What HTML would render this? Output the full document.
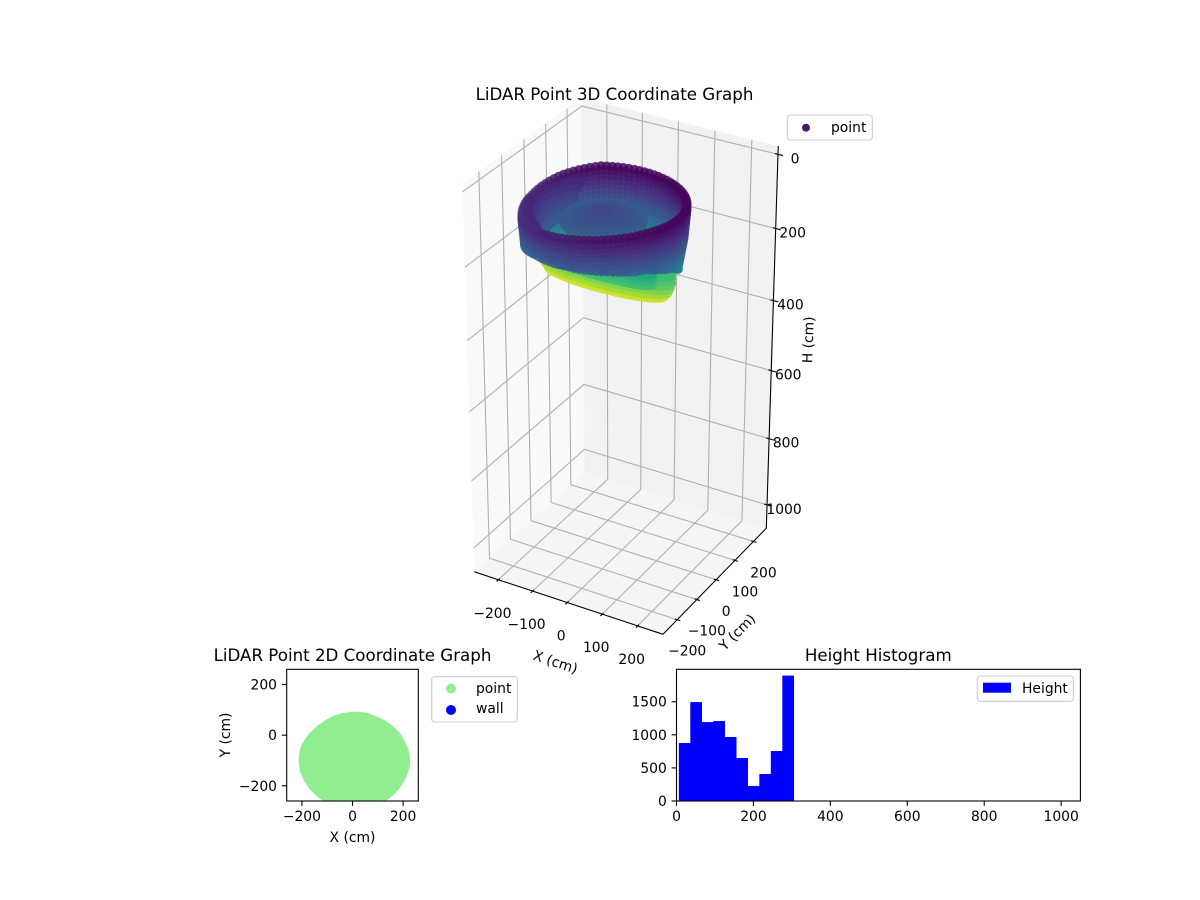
<!DOCTYPE html>
<html lang="en">
<head>
<meta charset="utf-8">
<title>LiDAR Point Graphs</title>
<style>
html,body{margin:0;padding:0;background:#fff;}
svg{display:block;font-family:"DejaVu Sans","Liberation Sans",sans-serif;fill:#000;}
text{font-size:13.89px;}
.ttl{font-size:16.67px;}
</style>
</head>
<body>
<svg id="fig" width="1200" height="900" viewBox="0 0 1200 900" xmlns="http://www.w3.org/2000/svg">
<defs>
<clipPath id="clip2d"><rect x="286.7" y="669.3" width="131.6" height="131.7"/></clipPath>
</defs>
<rect width="1200" height="900" fill="#fff"/>
<g id="plot3d"></g>
<text class="ttl" x="614.5" y="100" text-anchor="middle">LiDAR Point 3D Coordinate Graph</text>
<text transform="translate(554,666.5) rotate(18.3)" text-anchor="middle">X (cm)</text>
<text transform="translate(740.5,635.5) rotate(-45)" text-anchor="middle">Y (cm)</text>
<text transform="translate(813,340) rotate(-88)" text-anchor="middle">H (cm)</text>
<g>
<rect x="787.3" y="115" width="85" height="25" rx="3" fill="#fff" fill-opacity=".8" stroke="#ccc" stroke-width="1.1"/>
<circle cx="806" cy="127.7" r="4" fill="#481a6c"/>
<text x="831" y="132">point</text>
</g>

<g id="plot2d"></g>
<text class="ttl" x="352.5" y="661" text-anchor="middle">LiDAR Point 2D Coordinate Graph</text>
<text x="352.5" y="842" text-anchor="middle">X (cm)</text>
<text transform="translate(230,735) rotate(-90)" text-anchor="middle">Y (cm)</text>
<g>
<rect x="431.7" y="676.7" width="85.6" height="45.3" rx="3" fill="#fff" fill-opacity=".8" stroke="#ccc" stroke-width="1.1"/>
<circle cx="451" cy="688.5" r="5" fill="#90ee90"/>
<text x="476" y="693">point</text>
<circle cx="451" cy="710" r="5" fill="#0000ff"/>
<text x="476" y="713">wall</text>
</g>

<g id="hist"></g>
<text class="ttl" x="878.3" y="661" text-anchor="middle">Height Histogram</text>
<g>
<rect x="977.3" y="676" width="96" height="25.3" rx="3" fill="#fff" fill-opacity=".8" stroke="#ccc" stroke-width="1.1"/>
<rect x="983" y="682.7" width="28" height="10" fill="#0000ff"/>
<text x="1022" y="693">Height</text>
</g>
</svg>

<script>
// ---------- histogram data ----------
var histEdges = [6, 35.9, 65.8, 95.7, 125.6, 155.5, 185.4, 215.3, 245.2, 275.1, 305];
var histCounts = [876, 1495, 1193, 1208, 967, 650, 227, 408, 755, 1895];
var histXTicks = [0, 200, 400, 600, 800, 1000];
var histYTicks = [0, 500, 1000, 1500];

// ---------- 2D footprint data (cm) ----------
var footprintX = [0, 30, 60, 95, 130, 160, 185, 205, 220, 226, 224, 215, 200, 180, 150, 121, 80, 0, -70, -109, -140, -165, -190, -205, -211, -210, -200, -185, -165, -145, -110, -75, -40];
var footprintY = [91, 90, 85, 72, 55, 33, 8, -25, -60, -95, -125, -155, -185, -215, -245, -262, -285, -300, -285, -262, -240, -215, -180, -145, -105, -75, -40, -15, 10, 30, 55, 75, 85];
var ticks2d = [-200, 0, 200];

// ---------- 3D scatter data (cm) ----------
var ticksX3d = [-200, -100, 0, 100, 200];
var ticksY3d = [-200, -100, 0, 100, 200];
var ticksZ3d = [0, 200, 400, 600, 800, 1000];
var wallCentre = [6, -95];
var wallRadius = [197, 178];
var wallLevels = [30, 42, 54, 66, 78, 90, 102, 114, 126, 138, 150, 162, 174, 186, 198, 210];
var wallScale = [1, 1, 0.995, 0.99, 0.985, 0.98, 0.975, 0.97, 0.96, 0.95, 0.94, 0.93, 0.92, 0.91, 0.9, 0.89];
var wallSectorStep = 30;
var wallSectorTop = [0, 0, 0, 0, 0, 15, 35, 45, 35, 20, 8, 0];
var wallSectorDepth = [160, 209, 214, 214, 214, 214, 150, 150, 130, 124, 124, 130];
var wallColourGain = 0.8;
var bowlLevels = [64, 76, 88, 100, 112, 124];
var bowlScale = [0.93, 0.89, 0.85, 0.81, 0.77, 0.73];
var bowlSectorDepth = [0, 0, 0, 0, 0, 130, 130, 130, 60, 0, 0, 0];
var domeCentre = [-18, -58];
var domeLevels = [104, 100, 96, 92, 88, 84];
var domeRadius = [94, 78, 62, 46, 30, 14];
var lowerCentre = [-39, -11];
var lowerRadius = [178, 44];
var lowerLevels = [232, 245, 258, 271, 284, 296];
var lowerScale = [1, 1, 1, 0.98, 0.95, 0.9];
var lowerColourLevels = [215, 225, 235, 250, 265, 285];
var innerCentre = [-5, -95];
var innerRadius = [140, 25];
var innerLevels = [190, 200, 210, 220];
var highlightX = [-10, 5, 20, 35];
var highlightY = [90, 88, 85, 82];
var highlightZ = [292, 292, 292, 292];
var speckX = [-110, -85, -60, -35, -10];
var speckY = [8, 24, 40, 56, 72];
var speckZ = [190, 185, 195, 180, 190];
var heightRange = [24, 305];

// ---------- helpers ----------
var NS = 'http://www.w3.org/2000/svg';
function make(tag, attrs, parent) {
  var el = document.createElementNS(NS, tag);
  for (var k in attrs) el.setAttribute(k, attrs[k]);
  parent.appendChild(el);
  return el;
}
function minusFmt(v) { return v < 0 ? '\u2212' + Math.abs(v) : String(v); }

var viridisStops = ['#440154', '#482475', '#414487', '#355f8d', '#2a788e', '#21918c', '#22a884', '#44bf70', '#7ad151', '#bddf26', '#fde725'];
function viridis(t) {
  t = Math.max(0, Math.min(1, t)) * 10;
  var i = Math.min(9, Math.floor(t)), f = t - i;
  var a = viridisStops[i], b = viridisStops[i + 1], out = [];
  for (var c = 0; c < 3; c++) {
    var p = parseInt(a.substr(1 + c * 2, 2), 16), q = parseInt(b.substr(1 + c * 2, 2), 16);
    out.push(Math.round(p + (q - p) * f));
  }
  return 'rgb(' + out.join(',') + ')';
}

// ---------- 3D projection: homography fitted to the drawn box corners ----------
var boxCalibration = [
  [0, 0, 0, 474, 571.7], [1, 0, 0, 663.3, 634.3], [1, 1, 0, 766, 528.3], [0, 1, 0, 585, 472.3],
  [1, 1, 1, 778.3, 146], [0, 1, 1, 581.7, 98], [0, 0, 1, 462.5, 183.4]
];
function fitCamera(cal) {
  var n = 11, A = [], i, j, k;
  for (i = 0; i < n; i++) { A.push([]); for (j = 0; j <= n; j++) A[i].push(0); }
  function addRow(r, y) {
    for (var a = 0; a < n; a++) {
      for (var b = 0; b < n; b++) A[a][b] += r[a] * r[b];
      A[a][n] += r[a] * y;
    }
  }
  cal.forEach(function (c) {
    var u = c[0], v = c[1], w = c[2], x = c[3] / 1000, y = c[4] / 1000;
    addRow([1, u, v, w, 0, 0, 0, 0, -x * u, -x * v, -x * w], x);
    addRow([0, 0, 0, 0, 1, u, v, w, -y * u, -y * v, -y * w], y);
  });
  for (i = 0; i < n; i++) {
    var piv = i;
    for (k = i + 1; k < n; k++) if (Math.abs(A[k][i]) > Math.abs(A[piv][i])) piv = k;
    var tmp = A[i]; A[i] = A[piv]; A[piv] = tmp;
    for (k = 0; k < n; k++) {
      if (k === i) continue;
      var f = A[k][i] / A[i][i];
      for (j = i; j <= n; j++) A[k][j] -= f * A[i][j];
    }
  }
  var s = [];
  for (i = 0; i < n; i++) s.push(A[i][n] / A[i][i]);
  return s;
}
var cam = fitCamera(boxCalibration);
function cube(u, v, w) {
  var d = 1 + cam[8] * u + cam[9] * v + cam[10] * w;
  return [1000 * (cam[0] + cam[1] * u + cam[2] * v + cam[3] * w) / d,
          1000 * (cam[4] + cam[5] * u + cam[6] * v + cam[7] * w) / d];
}
var xyHalf = 270.8, zMin = -21.9, zSpan = 1093.8;
function uOf(x) { return (x + xyHalf) / (2 * xyHalf); }
function vOf(y) { return (y + xyHalf) / (2 * xyHalf); }
function wOf(z) { return 1 - (z - zMin) / zSpan; }
function pts(list) {
  return list.map(function (c) { var p = cube(c[0], c[1], c[2]); return p[0].toFixed(2) + ',' + p[1].toFixed(2); }).join(' ');
}

// ---------- 3D plot ----------
var g3 = document.getElementById('plot3d');
var paneDefs = [
  ['pane-left', '#f9f9f9', [[0, 0, 0], [0, 1, 0], [0, 1, 1], [0, 0, 1]]],
  ['pane-back', '#f2f2f2', [[0, 1, 0], [1, 1, 0], [1, 1, 1], [0, 1, 1]]],
  ['pane-floor', '#f5f5f5', [[0, 0, 0], [1, 0, 0], [1, 1, 0], [0, 1, 0]]]
];
paneDefs.forEach(function (d) {
  var el = make('polygon', { points: pts(d[2]), fill: d[1] }, g3);
  
  
});
var gridStyle = { fill: 'none', stroke: '#b0b0b0', 'stroke-width': 1.1 };
function gridLine(list, name) {
  var el = make('polyline', { points: pts(list), fill: gridStyle.fill, stroke: gridStyle.stroke, 'stroke-width': gridStyle['stroke-width'] }, g3);
  
  
}
ticksX3d.forEach(function (t) { var u = uOf(t); gridLine([[u, 0, 0], [u, 1, 0], [u, 1, 1]], 'x-gridline'); });
ticksY3d.forEach(function (t) { var v = vOf(t); gridLine([[1, v, 0], [0, v, 0], [0, v, 1]], 'y-gridline'); });
ticksZ3d.forEach(function (t) { var w = wOf(t); gridLine([[0, 0, w], [0, 1, w], [1, 1, w]], 'z-gridline'); });

// scatter points: [u, v, w, colourHeight, depthBias, radius]
var cloud = [];
function pushPoint(x, y, z, colourZ, bias, size) {
  cloud.push([uOf(x), vOf(y), wOf(z), colourZ === undefined ? z : colourZ, bias || 0, size || 4.6]);
}
function wallTone(z) { return heightRange[0] + (z - heightRange[0]) * wallColourGain; }
function sectorValue(list, deg) {
  var pos = deg / wallSectorStep, lo = Math.floor(pos) % list.length, hi = (lo + 1) % list.length, f = pos - Math.floor(pos);
  return list[lo] + (list[hi] - list[lo]) * f;
}
var deg;
for (deg = 0; deg < 360; deg += 4) {
  var rad = deg * Math.PI / 180, ca = Math.cos(rad), sa = Math.sin(rad);
  var wallBottom = sectorValue(wallSectorDepth, deg), rimOffset = sectorValue(wallSectorTop, deg), lastScale = 1;
  wallLevels.forEach(function (z, i) {
    if (z + rimOffset <= wallBottom) {
      lastScale = wallScale[i];
      pushPoint(wallCentre[0] + wallRadius[0] * wallScale[i] * ca, wallCentre[1] + wallRadius[1] * wallScale[i] * sa, z + rimOffset, wallTone(z + rimOffset));
    }
  });
  pushPoint(wallCentre[0] + wallRadius[0] * lastScale * ca, wallCentre[1] + wallRadius[1] * lastScale * sa, wallBottom, wallTone(wallBottom));
  var bowlLimit = sectorValue(bowlSectorDepth, deg);
  bowlLevels.forEach(function (z, i) {
    if (z <= bowlLimit) pushPoint(wallCentre[0] + wallRadius[0] * bowlScale[i] * ca, wallCentre[1] + wallRadius[1] * bowlScale[i] * sa, z, wallTone(z));
  });
  lowerLevels.forEach(function (z, i) {
    pushPoint(lowerCentre[0] + lowerRadius[0] * lowerScale[i] * ca, lowerCentre[1] + lowerRadius[1] * lowerScale[i] * sa, z, lowerColourLevels[i]);
  });
  innerLevels.forEach(function (z) {
    pushPoint(innerCentre[0] + innerRadius[0] * ca, innerCentre[1] + innerRadius[1] * sa, z);
    pushPoint(innerCentre[0] + innerRadius[0] * 0.5 * ca, innerCentre[1] + innerRadius[1] * 0.5 * sa, z);
  });
}
for (deg = 0; deg < 360; deg += 12) {
  var rd = deg * Math.PI / 180;
  domeLevels.forEach(function (z, i) {
    pushPoint(domeCentre[0] + domeRadius[i] * Math.cos(rd), domeCentre[1] + domeRadius[i] * Math.sin(rd), z);
  });
}
highlightX.forEach(function (x, i) { pushPoint(x, highlightY[i], highlightZ[i], highlightZ[i], 0.3); });
speckX.forEach(function (x, i) { pushPoint(x, speckY[i], speckZ[i], speckZ[i], 0.25, 2.5); });
cloud.sort(function (a, b) {
  return (0.433 * a[0] - 0.75 * a[1] + 0.5 * a[2] + a[4]) - (0.433 * b[0] - 0.75 * b[1] + 0.5 * b[2] + b[4]);
});
var gCloud = make('g', {}, g3);


cloud.forEach(function (c) {
  var p = cube(c[0], c[1], c[2]);
  var t = (c[3] - heightRange[0]) / (heightRange[1] - heightRange[0]);
  var el = make('circle', { cx: p[0].toFixed(2), cy: p[1].toFixed(2), r: c[5], fill: viridis(t), 'fill-opacity': 0.85 }, gCloud);
  
  
});

// axes + ticks
function axisLine(a, b, name) {
  var p = cube(a[0], a[1], a[2]), q = cube(b[0], b[1], b[2]);
  var el = make('line', { x1: p[0], y1: p[1], x2: q[0], y2: q[1], stroke: '#000', 'stroke-width': 1.1 }, g3);
  
  
}
function tickText(parent, x, y, str, anchor, name) {
  var el = make('text', { x: x, y: y, 'text-anchor': anchor }, parent);
  el.textContent = str;
  
  
  return el;
}
axisLine([0, 0, 0], [1, 0, 0], 'x-axis-line');
axisLine([1, 0, 0], [1, 1, 0], 'y-axis-line');
axisLine([1, 1, 0], [1, 1, 1], 'z-axis-line');
ticksX3d.forEach(function (t) {
  var u = uOf(t), p = cube(u, 0, 0);
  axisLine([u, -0.016, 0], [u, 0.012, 0], 'x-tick');
  tickText(g3, p[0] - 6, p[1] + 38, minusFmt(t), 'middle', 'x-tick-label');
});
ticksY3d.forEach(function (t) {
  var v = vOf(t), p = cube(1, v, 0);
  axisLine([1.016, v, 0], [0.988, v, 0], 'y-tick');
  tickText(g3, p[0] + 10, p[1] + 36, minusFmt(t), 'middle', 'y-tick-label');
});
ticksZ3d.forEach(function (t) {
  var w = wOf(t), p = cube(1, 1, w);
  axisLine([0.985, 1, w], [1.025, 1, w], 'z-tick');
  tickText(g3, p[0] + 17, p[1] + 9, String(t), 'middle', 'z-tick-label');
});

// ---------- generic 2D axes frame ----------
function frame(parent, x0, y0, x1, y1, name) {
  var el = make('rect', { x: x0, y: y0, width: x1 - x0, height: y1 - y0, fill: 'none', stroke: '#000', 'stroke-width': 1.1 }, parent);
  
  
}
function tickMark(parent, x1, y1, x2, y2, name) {
  var el = make('line', { x1: x1, y1: y1, x2: x2, y2: y2, stroke: '#000', 'stroke-width': 1.1 }, parent);
  
  
}

// ---------- 2D plot ----------
var g2 = document.getElementById('plot2d');
var ax2 = { x0: 286.7, x1: 418.3, y0: 669.3, y1: 801 };
function sx2(v) { return ax2.x0 + (v + 260) / 520 * (ax2.x1 - ax2.x0); }
function sy2(v) { return ax2.y1 - (v + 260) / 520 * (ax2.y1 - ax2.y0); }
var footPts = footprintX.map(function (x, i) { return sx2(x).toFixed(2) + ',' + sy2(footprintY[i]).toFixed(2); }).join(' ');
var footEl = make('polygon', { points: footPts, fill: '#90ee90', stroke: '#90ee90', 'stroke-width': 1, 'stroke-linejoin': 'round', 'clip-path': 'url(#clip2d)' }, g2);


frame(g2, ax2.x0, ax2.y0, ax2.x1, ax2.y1, 'plot-2d-frame');
ticks2d.forEach(function (t) {
  tickMark(g2, sx2(t), ax2.y1, sx2(t), ax2.y1 + 4.9, 'x-tick-2d');
  tickText(g2, sx2(t), 821, minusFmt(t), 'middle', 'x-tick-label-2d');
  tickMark(g2, ax2.x0, sy2(t), ax2.x0 - 4.9, sy2(t), 'y-tick-2d');
  tickText(g2, ax2.x0 - 9.7, sy2(t) + 5, minusFmt(t), 'end', 'y-tick-label-2d');
});

// ---------- histogram ----------
var gh = document.getElementById('hist');
var axh = { x0: 676.5, x1: 1080.4, y0: 669.3, y1: 801 };
var histXMax = 1050, histYMax = 1990;
function sxh(v) { return axh.x0 + v / histXMax * (axh.x1 - axh.x0); }
function syh(v) { return axh.y1 - v / histYMax * (axh.y1 - axh.y0); }
histCounts.forEach(function (c, i) {
  var x0 = sxh(histEdges[i]), x1 = sxh(histEdges[i + 1]);
  var el = make('rect', { x: x0, y: syh(c), width: x1 - x0 + 0.2, height: axh.y1 - syh(c), fill: '#0000ff' }, gh);
  
  
});
frame(gh, axh.x0, axh.y0, axh.x1, axh.y1, 'histogram-frame');
histXTicks.forEach(function (t) {
  tickMark(gh, sxh(t), axh.y1, sxh(t), axh.y1 + 4.9, 'x-tick-histogram');
  tickText(gh, sxh(t), 821, String(t), 'middle', 'x-tick-label-histogram');
});
histYTicks.forEach(function (t) {
  tickMark(gh, axh.x0, syh(t), axh.x0 - 4.9, syh(t), 'y-tick-histogram');
  tickText(gh, axh.x0 - 9.7, syh(t) + 5, String(t), 'end', 'y-tick-label-histogram');
});
</script>
</body>
</html>
